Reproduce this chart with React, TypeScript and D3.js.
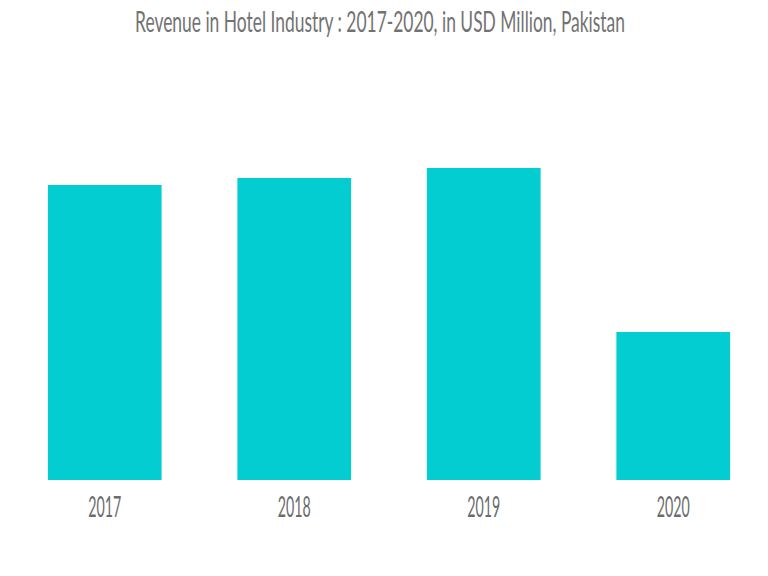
import React, { useEffect, useRef } from 'react';
import * as d3 from 'd3';

const years = ['2017', '2018', '2019', '2020'];
const revenue = [295, 302, 312, 148];
const title = 'Revenue in Hotel Industry : 2017-2020, in USD Million, Pakistan';

const W = 768;
const H = 576;

export default function App() {
  const titleRef = useRef<SVGTextElement>(null);
  const x = d3.scaleBand<string>().domain(years).range([10, 768]).paddingInner(0.4).paddingOuter(0.2);
  const y = d3.scaleLinear().domain([0, 312]).range([480, 168]);

  // squeeze the title to the width it has in the picture
  useEffect(() => {
    const el = titleRef.current;
    if (!el) return;
    const len = el.getComputedTextLength();
    const sx = 490 / len;
    d3.select(el).attr('transform', `translate(380,32) scale(${sx},1)`);
  }, []);

  return (
    <svg
      width={W}
      height={H}
      style={{ position: 'fixed', left: 0, top: 0, background: '#fff' }}
      fontFamily="Lato, 'Open Sans', sans-serif"
    >
      <text
        ref={titleRef}
        transform="translate(380,32) scale(0.55,1)"
        textAnchor="middle"
        fontSize={29}
        fill="#727272"
      >
        {title}
      </text>

      {years.map((yr, i) => (
        <rect
          key={yr}
          x={x(yr)}
          y={y(revenue[i])}
          width={x.bandwidth()}
          height={y(0) - y(revenue[i])}
          fill="#03CDD0"
        />
      ))}

      {years.map((yr) => (
        <text
          key={'l' + yr}
          x={(x(yr) ?? 0) + x.bandwidth() / 2}
          y={517}
          textAnchor="middle"
          fontSize={28}
          fill="#6b6b6b"
          textLength={33}
          lengthAdjust="spacingAndGlyphs"
        >
          {yr}
        </text>
      ))}
    </svg>
  );
}
